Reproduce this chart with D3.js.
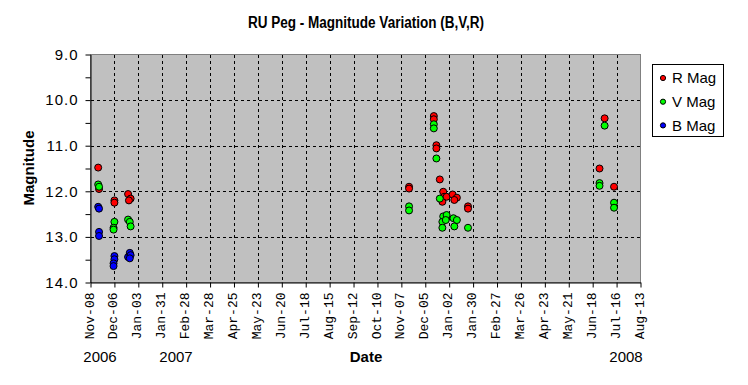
<!DOCTYPE html>
<html>
<head>
<meta charset="utf-8">
<script src="https://cdn.jsdelivr.net/npm/d3@7"></script>
<style>
  body { margin: 0; background: #fff; }
</style>
</head>
<body>
<div id="chart"></div>
<script>
// ---- data ----
const seriesNames = ["R Mag", "V Mag", "B Mag"];
const seriesColors = ["#ff0000", "#00ff00", "#0000ff"];

const rDates = ["2006-11-17", "2006-11-18", "2006-12-06", "2006-12-06", "2006-12-22", "2006-12-25", "2006-12-23",
  "2007-11-16", "2007-11-16", "2007-12-15", "2007-12-15", "2007-12-18", "2007-12-18", "2007-12-22",
  "2007-12-26", "2007-12-27", "2007-12-25", "2007-12-30", "2008-01-06", "2008-01-11", "2008-01-08",
  "2008-01-24", "2008-01-24", "2008-06-26", "2008-07-02", "2008-07-13"];
const rMags = [11.48, 11.95, 12.20, 12.25, 12.06, 12.16, 12.20,
  11.90, 11.94, 10.35, 10.42, 10.99, 11.06, 11.74,
  12.01, 12.12, 12.23, 12.12, 12.07, 12.14, 12.19,
  12.33, 12.38, 11.50, 10.40, 11.90];

const vDates = ["2006-11-17", "2006-11-18", "2006-12-06", "2006-12-05", "2006-12-05", "2006-12-22", "2006-12-24", "2006-12-25",
  "2007-11-16", "2007-11-16", "2007-12-15", "2007-12-15", "2007-12-18", "2007-12-22",
  "2007-12-26", "2007-12-30", "2007-12-25", "2007-12-29", "2007-12-25", "2008-01-07", "2008-01-11", "2008-01-08",
  "2008-01-24", "2008-06-26", "2008-06-26", "2008-07-02", "2008-07-13", "2008-07-13"];
const vMags = [11.85, 11.90, 12.67, 12.80, 12.84, 12.62, 12.67, 12.77,
  12.33, 12.42, 10.53, 10.62, 11.28, 12.16,
  12.55, 12.52, 12.67, 12.63, 12.80, 12.59, 12.63, 12.77,
  12.80, 11.82, 11.88, 10.56, 12.25, 12.36];

const bDates = ["2006-11-17", "2006-11-18", "2006-11-18", "2006-11-18", "2006-12-06", "2006-12-06", "2006-12-05", "2006-12-05",
  "2006-12-22", "2006-12-24", "2006-12-25", "2006-12-24"];
const bMags = [12.34, 12.38, 12.89, 12.98, 13.42, 13.49, 13.58, 13.64,
  13.44, 13.35, 13.40, 13.47];

const tickDates = ["2006-11-08", "2006-12-06", "2007-01-03", "2007-01-31", "2007-02-28", "2007-03-28",
  "2007-04-25", "2007-05-23", "2007-06-20", "2007-07-18", "2007-08-15", "2007-09-12", "2007-10-10",
  "2007-11-07", "2007-12-05", "2008-01-02", "2008-01-30", "2008-02-27", "2008-03-26", "2008-04-23",
  "2008-05-21", "2008-06-18", "2008-07-16", "2008-08-13"];
const yTicks = [9, 10, 11, 12, 13, 14];
const yMinorTicks = [9.5, 10.5, 11.5, 12.5, 13.5];
const yearLabels = ["2006", "2007", "2008"];

// ---- layout ----
const width = 748;
const height = 385;
const plot = {left: 90.5, right: 640.5, top: 54.5, bottom: 282.5};
const yearX = [100, 176, 626];
const sans = "Liberation Sans, Arial, sans-serif";

const parse = d3.utcParse("%Y-%m-%d");
const fmt = d3.utcFormat("%b-%d");

const x = d3.scaleUtc()
    .domain([parse(tickDates[0]), parse(tickDates[tickDates.length - 1])])
    .range([plot.left, plot.right]);
const y = d3.scaleLinear()
    .domain([9, 14])
    .range([plot.top, plot.bottom]);

const series = [
  {name: seriesNames[0], color: seriesColors[0], pts: rDates.map((d, i) => ({date: parse(d), mag: rMags[i]}))},
  {name: seriesNames[1], color: seriesColors[1], pts: vDates.map((d, i) => ({date: parse(d), mag: vMags[i]}))},
  {name: seriesNames[2], color: seriesColors[2], pts: bDates.map((d, i) => ({date: parse(d), mag: bMags[i]}))}
];

const svg = d3.create("svg")
    .attr("width", width)
    .attr("height", height)
    .attr("viewBox", [0, 0, width, height])
    .attr("font-family", sans);

// plot background
svg.append("rect")
    .attr("x", plot.left)
    .attr("y", plot.top)
    .attr("width", plot.right - plot.left)
    .attr("height", plot.bottom - plot.top)
    .attr("fill", "#c0c0c0")
    .attr("stroke", "#808080");

// grid
const grid = svg.append("g")
    .attr("stroke", "#000")
    .attr("stroke-dasharray", "3,3")
    .attr("shape-rendering", "crispEdges");
grid.selectAll("line.v")
    .data(tickDates.slice(1, -1))
    .join("line")
        .attr("x1", d => Math.round(x(parse(d))) + 0.5)
        .attr("x2", d => Math.round(x(parse(d))) + 0.5)
        .attr("y1", plot.top)
        .attr("y2", plot.bottom);
grid.selectAll("line.h")
    .data(yTicks.slice(1, -1))
    .join("line")
        .attr("x1", plot.left)
        .attr("x2", plot.right)
        .attr("y1", d => Math.round(y(d)) + 0.5)
        .attr("y2", d => Math.round(y(d)) + 0.5);

// y axis
const yAxis = svg.append("g")
    .attr("transform", `translate(${plot.left},0)`)
    .call(d3.axisLeft(y).tickValues(yTicks).tickFormat(d3.format(".1f")).tickSize(5).tickSizeOuter(0));
yAxis.select(".domain").attr("stroke", "#000");
yAxis.selectAll("text")
    .attr("font-size", 15)
    .attr("font-family", sans)
    .attr("letter-spacing", "1px")
    .attr("x", -12)
    .attr("fill", "#000");
svg.append("g")
    .attr("transform", `translate(${plot.left},0)`)
    .call(d3.axisLeft(y).tickValues(yMinorTicks).tickFormat("").tickSize(5).tickSizeOuter(0))
    .select(".domain").remove();

// x axis
const xAxis = svg.append("g")
    .attr("transform", `translate(0,${plot.bottom})`)
    .call(d3.axisBottom(x).tickValues(tickDates.map(parse)).tickFormat(fmt).tickSize(5).tickSizeOuter(0));
xAxis.select(".domain").attr("stroke", "#000");
xAxis.selectAll("text")
    .attr("font-family", "Liberation Mono, Courier New, monospace")
    .attr("font-size", 13)
    .attr("fill", "#000")
    .attr("text-anchor", "end")
    .attr("transform", "rotate(-90)")
    .attr("x", -10)
    .attr("y", -2)
    .attr("dy", "0.35em");

// points
series.forEach(s => {
  svg.append("g")
      .selectAll("circle")
      .data(s.pts)
      .join("circle")
          .attr("cx", d => x(d.date))
          .attr("cy", d => y(d.mag))
          .attr("r", 3.5)
          .attr("fill", s.color)
          .attr("stroke", "#000")
          .attr("stroke-width", 1);
});

// title and axis titles
svg.append("text")
    .attr("x", 366)
    .attr("y", 28)
    .attr("text-anchor", "middle")
    .attr("font-weight", "bold")
    .attr("font-size", 16)
    .attr("textLength", 236)
    .attr("lengthAdjust", "spacingAndGlyphs")
    .text("RU Peg - Magnitude Variation (B,V,R)");

svg.append("text")
    .attr("transform", "translate(34,168) rotate(-90)")
    .attr("text-anchor", "middle")
    .attr("font-weight", "bold")
    .attr("font-size", 15)
    .text("Magnitude");

svg.append("text")
    .attr("x", 366)
    .attr("y", 362)
    .attr("text-anchor", "middle")
    .attr("font-weight", "bold")
    .attr("font-size", 15)
    .text("Date");

svg.append("g")
    .selectAll("text")
    .data(yearLabels)
    .join("text")
        .attr("x", (d, i) => yearX[i])
        .attr("y", 362)
        .attr("text-anchor", "middle")
        .attr("font-size", 15)
        .text(d => d);

// legend
const legend = svg.append("g");
legend.append("rect")
    .attr("x", 652.5)
    .attr("y", 64.5)
    .attr("width", 71)
    .attr("height", 72)
    .attr("fill", "#fff")
    .attr("stroke", "#000");
const items = legend.selectAll("g.item")
    .data(series)
    .join("g")
        .attr("transform", (d, i) => `translate(663,${78 + i * 23.7})`);
items.append("circle")
    .attr("r", 2.6)
    .attr("fill", d => d.color)
    .attr("stroke", "#000");
items.append("text")
    .attr("x", 9)
    .attr("dy", "0.35em")
    .attr("font-size", 15)
    .text(d => d.name);

document.getElementById("chart").append(svg.node());
</script>
</body>
</html>
